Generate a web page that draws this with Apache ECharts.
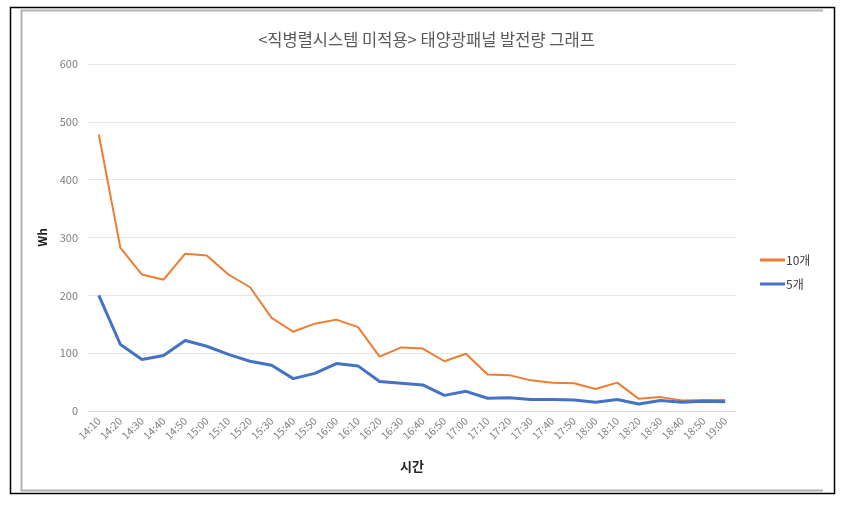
<!DOCTYPE html>
<html>
<head>
<meta charset="utf-8">
<script src="https://cdn.jsdelivr.net/npm/echarts@6/dist/echarts.min.js"></script>
<style>
html,body{margin:0;padding:0;background:#fff;}
#c{width:853px;height:507px;}
</style>
</head>
<body>
<div id="c"></div>
<script>
const categories = ['14:10','14:20','14:30','14:40','14:50','15:00','15:10','15:20','15:30','15:40','15:50','16:00','16:10','16:20','16:30','16:40','16:50','17:00','17:10','17:20','17:30','17:40','17:50','18:00','18:10','18:20','18:30','18:40','18:50','19:00'];
const series10 = [478,282,236,227,272,269,236,214,161,137,151,158,145,94,110,108,86,99,63,62,53,49,48,38,49,21,24,18,19,19];
const series5 = [200,115,89,96,122,112,98,86,79,56,65,82,78,51,48,45,27,34,22,23,20,20,19,15,20,12,18,15,17,16];
const yTicks = [0,100,200,300,400,500,600];
const titleText = '<직병렬시스템 미적용> 태양광패널 발전량 그래프';
const fontFam = '"Noto Sans CJK KR", "Noto Sans", sans-serif';

const chart = echarts.init(document.getElementById('c'), null, {renderer:'canvas'});
chart.setOption({
  backgroundColor:'#fff',
  animation:false,
  title:{
    text:titleText, left:'center', top:26,
    textStyle:{fontFamily:fontFam, fontSize:16.5, fontWeight:'normal', color:'#595959'}
  },
  legend:{
    orient:'vertical', left:755, top:249, itemWidth:25, itemHeight:3, itemGap:12,
    icon:'rect',
    textStyle:{fontFamily:fontFam, fontSize:12, color:'#404040', padding:[0,0,0,-4]},
    data:['10개','5개']
  },
  grid:{left:88, right:117, top:64, bottom:96},
  xAxis:{
    type:'category', data:categories, boundaryGap:true,
    name:'시간', nameLocation:'middle', nameGap:49,
    nameTextStyle:{fontFamily:fontFam, fontSize:13, fontWeight:'bold', color:'#222'},
    axisLine:{show:true, lineStyle:{color:'#d9d9d9'}},
    axisTick:{show:false},
    axisLabel:{rotate:45, fontSize:10.5, color:'#7f7f7f', margin:8, interval:0, fontFamily:fontFam}
  },
  yAxis:{
    type:'value', min:yTicks[0], max:yTicks[yTicks.length-1], interval:100,
    name:'Wh', nameLocation:'middle', nameGap:38, nameRotate:90,
    nameTextStyle:{fontFamily:fontFam, fontSize:12, fontWeight:'bold', color:'#222'},
    axisLine:{show:false}, axisTick:{show:false},
    axisLabel:{fontSize:11, color:'#7f7f7f', margin:10, fontFamily:fontFam},
    splitLine:{lineStyle:{color:'#e6e6e6', width:1}}
  },
  series:[
    {name:'10개', type:'line', data:series10, symbol:'none', lineStyle:{color:'#ED7D31', width:2}, itemStyle:{color:'#ED7D31'}},
    {name:'5개', type:'line', data:series5, symbol:'none', lineStyle:{color:'#4472C4', width:3}, itemStyle:{color:'#4472C4'}}
  ],
  graphic:[
    {type:'rect', shape:{x:10.5, y:7.5, width:824, height:486}, style:{fill:null, stroke:'#000', lineWidth:1.5}, silent:true},
    {type:'polyline', shape:{points:[[823,10.5],[21.5,10.5],[21.5,490.5],[823,490.5]]}, style:{fill:null, stroke:'#b0b0b0', lineWidth:2}, silent:true}
  ]
});
</script>
</body>
</html>
